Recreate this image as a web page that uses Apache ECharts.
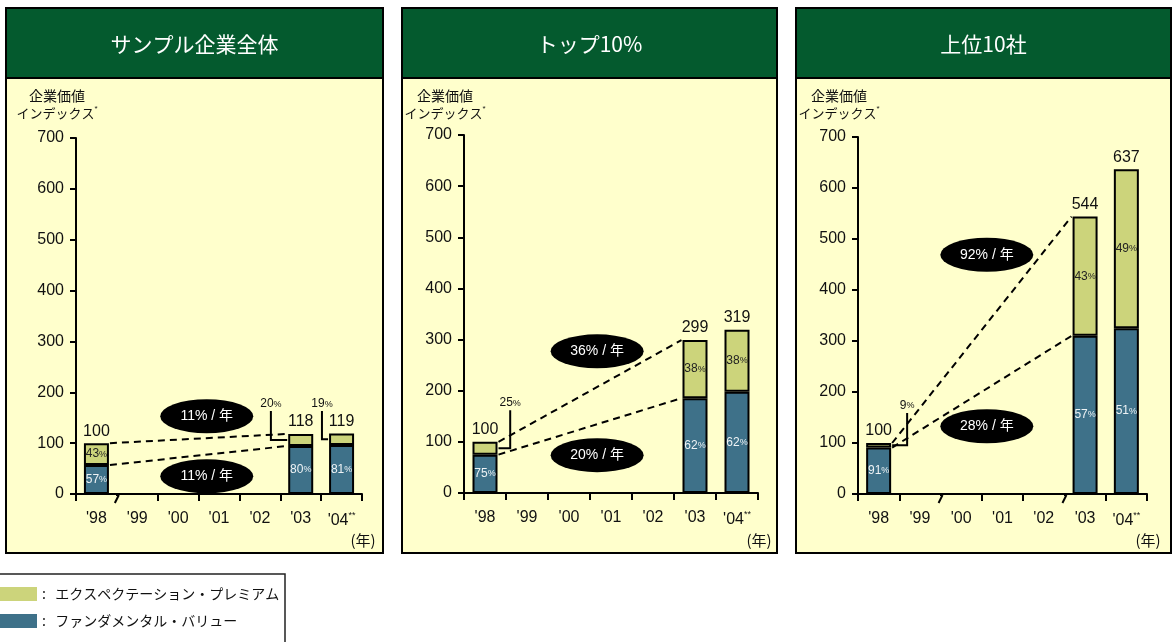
<!DOCTYPE html>
<html>
<head>
<meta charset="utf-8">
<script src="https://cdn.jsdelivr.net/npm/echarts@6/dist/echarts.min.js"></script>
<style>
  html, body { margin: 0; padding: 0; background: #ffffff; }
  #c { width: 1173px; height: 642px; }
</style>
</head>
<body>
<div id="c"></div>
<script>
// ---- data ----
const years = ["'98", "'99", "'00", "'01", "'02", "'03", "'04"];
const barYears = ["'98", "'03", "'04"];
const panelTitles = ['サンプル企業全体', 'トップ10%', '上位10社'];
// enterprise value index (1998 = 100) for each panel, per barYears
const indexTotals = [
  [100, 118, 119],
  [100, 299, 319],
  [100, 544, 637]
];
// share (%) of the index that is fundamental value; the rest is the expectation premium
const fundamentalShare = [
  [57, 80, 81],
  [75, 62, 62],
  [91, 57, 51]
];
// annual growth '98 -> '03
const totalGrowth = ['11%', '36%', '92%'];
const fundamentalGrowth = ['11%', '20%', '28%'];
const seriesNames = ['エクスペクテーション・プレミアム', 'ファンダメンタル・バリュー'];
const yAxisTitle = ['企業価値', 'インデックス'];
const yearUnit = '(年)';

// ---- layout & style ----
const FONT = "'Liberation Sans', 'Noto Sans CJK JP', sans-serif";
const JP = "'Noto Sans CJK JP', sans-serif";
const BLUE = '#3E7189', GREEN = '#CCD47B', HEAD = '#045A2E', PAPER = '#FFFFCC';
const BAR_W = 25;
const PANEL_TOP = 8, HEAD_H = 70, PANEL_BOTTOM = 553;

const panels = [
  { x: 6, w: 377, gridLeft: 76, gridWidth: 286, gridTop: 138, gridBottom: 494, breaks: [1],
    ovalTotal: [2.70, 153], ovalFund: [2.70, 35],
    leaders: [{ bar: 1, dx: -0.73, top: 163 }, { bar: 2, dx: -0.48, top: 163 }] },
  { x: 402, w: 375, gridLeft: 464, gridWidth: 294, gridTop: 135, gridBottom: 493, breaks: [],
    ovalTotal: [2.67, 277], ovalFund: [2.67, 74],
    leaders: [{ bar: 0, dx: 0.60, top: 162 }] },
  { x: 796, w: 375, gridLeft: 858, gridWidth: 289, gridTop: 137, gridBottom: 494, breaks: [2, 5],
    ovalTotal: [2.62, 469], ovalFund: [2.62, 133],
    leaders: [{ bar: 0, dx: 0.69, top: 159 }] }
];

const pctRich = {
  p: { fontSize: 9, fontFamily: FONT }
};

function textStyle(o) {
  // set both naming styles for alignment so either renderer path picks them up
  if (o.align) o.textAlign = o.align;
  if (o.verticalAlign) o.textVerticalAlign = o.verticalAlign;
  return o;
}

function makeAnnotations(p, pi) {
  const totals = indexTotals[pi];
  const fund = totals.map((t, i) => t * fundamentalShare[pi][i] / 100);
  return function (params, api) {
    const band = api.size([1, 0])[0];
    const half = BAR_W / 2 + 1;
    const at = (pos, v) => {
      const idx = Math.round(pos);
      const c = api.coord([idx, v]);
      return [c[0] + (pos - idx) * band, c[1]];
    };
    const children = [];
    const i98 = years.indexOf(barYears[0]);
    const i03 = years.indexOf(barYears[1]);

    // dashed growth lines '98 -> '03
    [[totals[0], totals[1]], [fund[0], fund[1]]].forEach(([a, b]) => {
      const p1 = api.coord([i98, a]);
      const p2 = api.coord([i03, b]);
      children.push({
        type: 'line',
        shape: { x1: p1[0] + half, y1: p1[1], x2: p2[0] - half, y2: p2[1] },
        style: { stroke: '#000', lineWidth: 2, lineDash: [7, 5] }
      });
    });

    // index totals above the bars
    barYears.forEach((y, k) => {
      const c = api.coord([years.indexOf(y), totals[k]]);
      children.push({
        type: 'text', x: c[0], y: c[1] - 4,
        style: textStyle({ text: String(totals[k]), fontSize: 16, fontFamily: FONT, fill: '#111',
          align: 'center', verticalAlign: 'bottom' })
      });
    });

    // black ovals with growth rates
    [[p.ovalTotal, totalGrowth[pi]], [p.ovalFund, fundamentalGrowth[pi]]].forEach(([pos, label]) => {
      const c = at(pos[0], pos[1]);
      children.push({
        type: 'circle', x: c[0], y: c[1], scaleX: 93 / 34,
        shape: { cx: 0, cy: 0, r: 17 },
        style: { fill: '#000' }
      });
      children.push({
        type: 'text', x: c[0], y: c[1],
        style: textStyle({ text: label + ' / 年', fontSize: 14, fontFamily: FONT, fill: '#fff',
          align: 'center', verticalAlign: 'middle' })
      });
    });

    // leader lines for thin premium segments
    p.leaders.forEach(l => {
      const k = l.bar;
      const idx = years.indexOf(barYears[k]);
      const mid = fund[k] + (totals[k] - fund[k]) / 2;
      const c = api.coord([idx, mid]);
      const xv = c[0] + l.dx * band;
      const yTop = api.coord([idx, l.top])[1];
      const edge = l.dx < 0 ? c[0] - half : c[0] + half;
      children.push({
        type: 'polyline',
        shape: { points: [[xv, yTop], [xv, c[1]], [edge, c[1]]] },
        style: { stroke: '#000', lineWidth: 2, fill: null }
      });
      children.push({
        type: 'text', x: xv, y: yTop - 1,
        style: textStyle({ text: (100 - fundamentalShare[pi][k]) + '{p|%}', fontSize: 12, fontFamily: FONT,
          fill: '#111', align: 'center', verticalAlign: 'bottom', rich: pctRich })
      });
    });

    // axis break marks on the year axis
    p.breaks.forEach(b => {
      const c = api.coord([b, 0]);
      const x = c[0] - band / 2;
      children.push({
        type: 'rect', shape: { x: x - 3, y: c[1] + 2, width: 6, height: 7 },
        style: { fill: PAPER }
      });
      children.push({
        type: 'line', shape: { x1: x + 2, y1: c[1] + 1, x2: x - 2, y2: c[1] + 9 },
        style: { stroke: '#000', lineWidth: 2 }
      });
    });

    return { type: 'group', children: children };
  };
}

const grids = [], xAxes = [], yAxes = [], series = [], graphics = [];

panels.forEach((p, pi) => {
  const totals = indexTotals[pi];
  const fund = totals.map((t, i) => t * fundamentalShare[pi][i] / 100);
  const prem = totals.map((t, i) => t - fund[i]);
  const spread = arr => years.map(y => {
    const k = barYears.indexOf(y);
    return k < 0 ? null : arr[k];
  });
  const leaderBars = p.leaders.map(l => l.bar);

  // panel body, header and title
  graphics.push({
    type: 'rect', z: -10,
    shape: { x: p.x, y: PANEL_TOP, width: p.w, height: PANEL_BOTTOM - PANEL_TOP },
    style: { fill: PAPER, stroke: '#000', lineWidth: 2 }
  });
  graphics.push({
    type: 'rect', z: -9,
    shape: { x: p.x, y: PANEL_TOP, width: p.w, height: HEAD_H },
    style: { fill: HEAD, stroke: '#000', lineWidth: 2 }
  });
  graphics.push({
    type: 'text', z: -8, x: p.x + p.w / 2, y: PANEL_TOP + HEAD_H / 2 + 1,
    style: textStyle({ text: panelTitles[pi], font: '21px ' + JP, fill: '#fff',
      align: 'center', verticalAlign: 'middle' })
  });
  // y-axis title
  graphics.push({
    type: 'text', z: -8, x: p.gridLeft - 19, y: 96,
    style: textStyle({ text: yAxisTitle[0], font: '14px ' + JP, fill: '#111',
      align: 'center', verticalAlign: 'middle' })
  });
  graphics.push({
    type: 'text', z: -8, x: p.gridLeft - 19, y: 113,
    style: textStyle({ text: yAxisTitle[1] + '{s|*}', font: '13px ' + JP, fill: '#111',
      align: 'center', verticalAlign: 'middle',
      rich: { s: { fontSize: 8, fontFamily: FONT, padding: [0, 0, 9, 0] } } })
  });
  // year unit
  graphics.push({
    type: 'text', z: -8, x: p.gridLeft + p.gridWidth + 1, y: 540,
    style: textStyle({ text: yearUnit, font: '15px ' + JP, fill: '#111',
      align: 'center', verticalAlign: 'middle' })
  });

  grids.push({ left: p.gridLeft, width: p.gridWidth, top: p.gridTop, height: p.gridBottom - p.gridTop });

  xAxes.push({
    gridIndex: pi, type: 'category', data: years, boundaryGap: true,
    axisLine: { lineStyle: { color: '#000', width: 2 } },
    axisTick: { show: true, length: 7, lineStyle: { color: '#000', width: 2 } },
    axisLabel: {
      color: '#111', fontSize: 16, fontFamily: FONT, margin: 17, interval: 0,
      formatter: v => v === years[years.length - 1] ? v + '{s|**}' : v,
      rich: { s: { fontSize: 9, fontFamily: FONT, padding: [0, 0, 10, 0], color: '#111' } }
    },
    splitLine: { show: false }
  });

  yAxes.push({
    gridIndex: pi, type: 'value', min: 0, max: 700, interval: 100,
    axisLine: { show: true, lineStyle: { color: '#000', width: 2 } },
    axisTick: { show: true, length: 6, lineStyle: { color: '#000', width: 2 } },
    axisLabel: { color: '#111', fontSize: 16, fontFamily: FONT, margin: 12 },
    splitLine: { show: false }
  });

  const pctLabel = (shareOf, color, hide) => ({
    show: true, position: 'inside', color: color, fontSize: 12, fontFamily: FONT,
    rich: { p: { fontSize: 9, fontFamily: FONT, color: color } },
    formatter: params => {
      const k = barYears.indexOf(years[params.dataIndex]);
      if (k < 0 || hide.indexOf(k) >= 0) return '';
      return shareOf(k) + '{p|%}';
    }
  });

  series.push({
    type: 'bar', name: seriesNames[1], xAxisIndex: pi, yAxisIndex: pi, stack: 'index' + pi,
    barWidth: BAR_W, data: spread(fund),
    itemStyle: { color: BLUE, borderColor: '#000', borderWidth: 2 },
    label: pctLabel(k => fundamentalShare[pi][k], '#EEF3F5', []),
    silent: true
  });
  series.push({
    type: 'bar', name: seriesNames[0], xAxisIndex: pi, yAxisIndex: pi, stack: 'index' + pi,
    barWidth: BAR_W, data: spread(prem),
    itemStyle: { color: GREEN, borderColor: '#000', borderWidth: 2 },
    label: pctLabel(k => 100 - fundamentalShare[pi][k], '#222', leaderBars),
    silent: true
  });
  series.push({
    type: 'custom', xAxisIndex: pi, yAxisIndex: pi, silent: true,
    data: [[0, 0]], encode: { x: 0, y: 1 },
    renderItem: makeAnnotations(p, pi)
  });
});

// legend frame
graphics.push({
  type: 'rect', z: -10,
  shape: { x: -2, y: 574, width: 287, height: 80 },
  style: { fill: '#fff', stroke: '#222', lineWidth: 1.5 }
});

const chart = echarts.init(document.getElementById('c'), null, { renderer: 'canvas' });
chart.setOption({
  animation: false,
  backgroundColor: '#ffffff',
  grid: grids,
  xAxis: xAxes,
  yAxis: yAxes,
  series: series,
  graphic: { elements: graphics },
  legend: {
    data: [seriesNames[0], seriesNames[1]],
    orient: 'vertical', left: 0, top: 587, padding: 0,
    icon: 'rect', itemWidth: 37, itemHeight: 14, itemGap: 13,
    itemStyle: { borderWidth: 0 },
    formatter: name => ':   ' + name,
    textStyle: { fontSize: 14, fontFamily: JP, color: '#111' },
    selectedMode: false
  }
});
</script>
</body>
</html>
